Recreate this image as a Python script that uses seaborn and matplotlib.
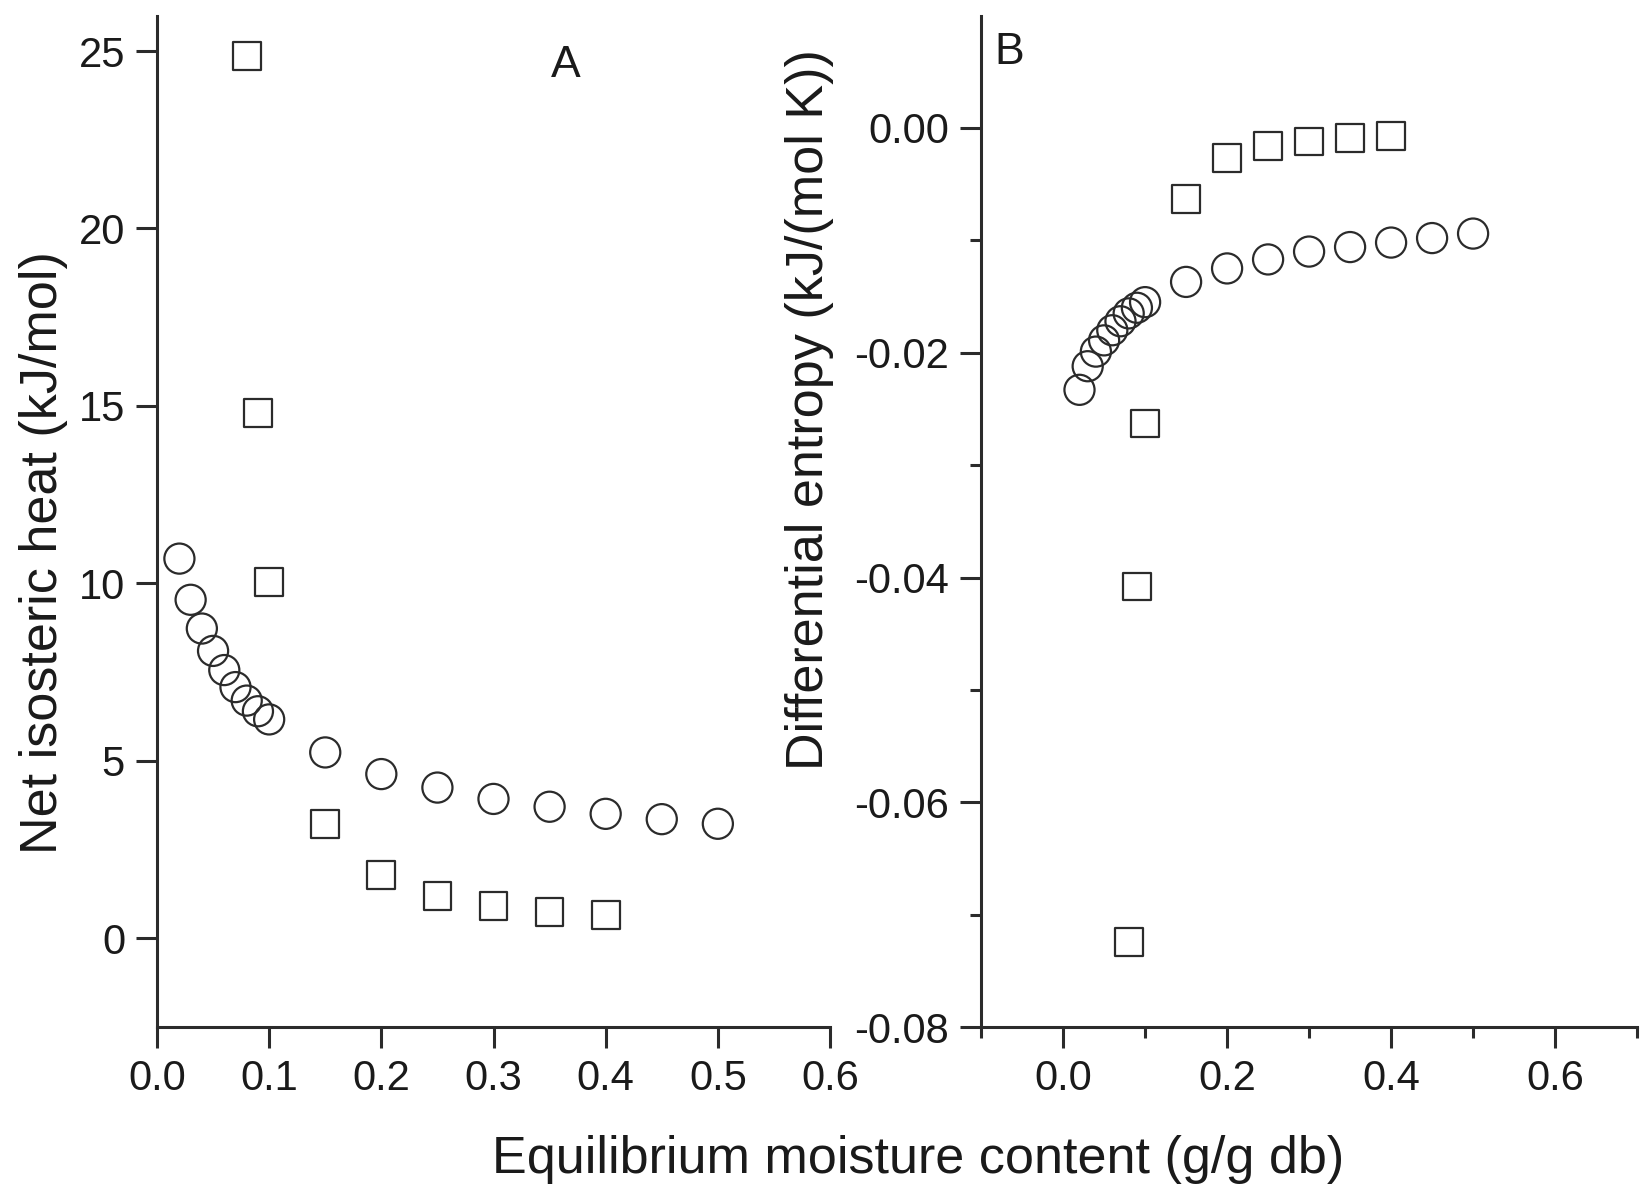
import matplotlib
matplotlib.use("Agg")
import matplotlib.pyplot as plt
import seaborn as sns
import pandas as pd

# moisture content (g/g db)
x_circ = [0.02, 0.03, 0.04, 0.05, 0.06, 0.07, 0.08, 0.09, 0.10,
          0.15, 0.20, 0.25, 0.30, 0.35, 0.40, 0.45, 0.50]
x_sq = [0.08, 0.09, 0.10, 0.15, 0.20, 0.25, 0.30, 0.35, 0.40]

# net isosteric heat (kJ/mol)
heat_circ = [10.70, 9.54, 8.73, 8.10, 7.56, 7.08, 6.70, 6.40, 6.17,
             5.24, 4.63, 4.25, 3.93, 3.71, 3.51, 3.36, 3.23]
heat_sq = [24.87, 14.80, 10.05, 3.23, 1.78, 1.20, 0.92, 0.75, 0.66]

# differential entropy (kJ/(mol K))
entropy_circ = [-0.0233, -0.0212, -0.0199, -0.0189, -0.0180, -0.0172, -0.0165,
                -0.0160, -0.0155, -0.0137, -0.0125, -0.0117, -0.0110, -0.0106,
                -0.0102, -0.0098, -0.0094]
entropy_sq = [-0.0724, -0.0408, -0.0263, -0.0063, -0.0027, -0.0016, -0.0012,
              -0.0009, -0.0007]

sns.set_theme(style="ticks")
plt.rcParams['font.family'] = ['Liberation Sans', 'DejaVu Sans']

INK = '#2b2b2b'
plt.rcParams.update({
    'axes.edgecolor': INK,
    'axes.linewidth': 2.2,
    'xtick.color': INK,
    'ytick.color': INK,
    'xtick.labelcolor': '#1a1a1a',
    'ytick.labelcolor': '#1a1a1a',
    'xtick.major.width': 2.2,
    'ytick.major.width': 2.2,
    'xtick.minor.width': 2.2,
    'ytick.minor.width': 2.2,
    'xtick.major.size': 15,
    'ytick.major.size': 15,
    'xtick.minor.size': 8,
    'ytick.minor.size': 8,
    'xtick.labelsize': 30,
    'ytick.labelsize': 30,
})

df_circ = pd.DataFrame({'x': x_circ, 'heat': heat_circ, 'entropy': entropy_circ})
df_sq = pd.DataFrame({'x': x_sq, 'heat': heat_sq, 'entropy': entropy_sq})

fig = plt.figure(figsize=(16.42, 11.93), dpi=100)
axA = fig.add_axes([0.0956, 0.139, 0.4099, 0.848])
axB = fig.add_axes([0.5975, 0.139, 0.3995, 0.848])

circ_kw = dict(marker='o', s=470, facecolor='none', edgecolor=INK, linewidth=1.6)
sq_kw = dict(marker='s', s=400, facecolor='none', edgecolor=INK, linewidth=1.6)

# panel A
sns.scatterplot(data=df_circ, x='x', y='heat', ax=axA, clip_on=False, **circ_kw)
sns.scatterplot(data=df_sq, x='x', y='heat', ax=axA, clip_on=False, **sq_kw)
axA.set_xlim(0, 0.6)
axA.set_ylim(-2.5, 26)
axA.set_xticks([0.0, 0.1, 0.2, 0.3, 0.4, 0.5, 0.6])
axA.set_xticklabels(['0.0', '0.1', '0.2', '0.3', '0.4', '0.5', '0.6'])
axA.set_yticks([0, 5, 10, 15, 20, 25])
axA.set_xlabel('')
axA.set_ylabel('Net isosteric heat (kJ/mol)', fontsize=37.5, color='#1a1a1a', va='center')
axA.yaxis.set_label_coords(-0.168, 0.469)
axA.text(0.608, 0.951, 'A', transform=axA.transAxes, fontsize=32, color='#1a1a1a',
         ha='center', va='center')
axA.tick_params(axis='both', pad=8)

# panel B
sns.scatterplot(data=df_circ, x='x', y='entropy', ax=axB, clip_on=False, **circ_kw)
sns.scatterplot(data=df_sq, x='x', y='entropy', ax=axB, clip_on=False, **sq_kw)
axB.set_xlim(-0.1, 0.7)
axB.set_ylim(-0.08, 0.01)
axB.set_xticks([0.0, 0.2, 0.4, 0.6])
axB.set_xticklabels(['0.0', '0.2', '0.4', '0.6'])
axB.set_xticks([-0.1, 0.1, 0.3, 0.5, 0.7], minor=True)
axB.set_yticks([-0.08, -0.06, -0.04, -0.02, 0.0])
axB.set_yticklabels(['-0.08', '-0.06', '-0.04', '-0.02', '0.00'])
axB.set_yticks([-0.07, -0.05, -0.03, -0.01], minor=True)
axB.set_xlabel('')
axB.set_ylabel('Differential entropy (kJ/(mol K))', fontsize=37.5, color='#1a1a1a', va='center')
axB.yaxis.set_label_coords(-0.262, 0.610)
axB.text(0.043, 0.963, 'B', transform=axB.transAxes, fontsize=32, color='#1a1a1a',
         ha='center', va='center')
axB.tick_params(axis='both', which='both', pad=8)

for ax in (axA, axB):
    sns.despine(ax=ax)
    ax.grid(False)

fig.text(0.559, 0.028, 'Equilibrium moisture content (g/g db)', fontsize=37.5,
         color='#1a1a1a', ha='center', va='center')

fig.savefig('out.png', dpi=100, facecolor='white')
